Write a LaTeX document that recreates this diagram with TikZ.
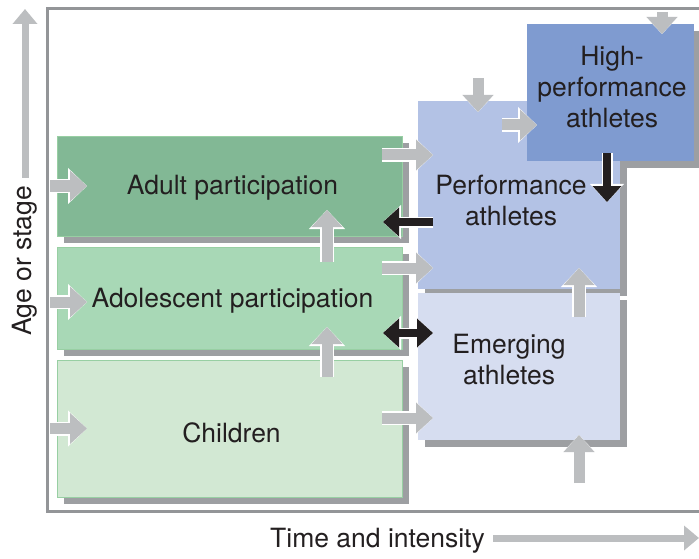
\documentclass[tikz,border=0pt]{standalone}
\usepackage{fontspec}
\setmainfont{TeX Gyre Heros}
\usetikzlibrary{arrows.meta,calc,backgrounds}
\definecolor{textdark}{HTML}{231F20}
\definecolor{framegray}{HTML}{939598}
\definecolor{shadowgray}{HTML}{9D9FA2}
\definecolor{arrowgray}{HTML}{BCBEC0}
\definecolor{adultgreen}{HTML}{82B895}
\definecolor{teengreen}{HTML}{A8D8B6}
\definecolor{childgreen}{HTML}{D2E8D3}
\definecolor{edgegreen}{HTML}{98CFA3}
\definecolor{perfblue}{HTML}{B3C2E5}
\definecolor{emergeblue}{HTML}{D6DDF0}
\definecolor{eliteblue}{HTML}{7F9BD0}

\begin{document}
\begin{tikzpicture}[x=1pt, y=-1pt,
  every node/.style={align=center, text=textdark, font=\fontsize{26.5}{31}\selectfont},
  stagebox/.style={rectangle, inner sep=0pt, outer sep=0pt},
  grayarrow/.style={draw=arrowgray, line width=11pt, -{Triangle[length=17pt,width=30pt]},
    preaction={draw=white, line width=14pt, -{Triangle[length=19pt,width=35pt]}}},
  blackarrow/.style={draw=textdark, line width=8pt, -{Triangle[length=16pt,width=28pt]},
    preaction={draw=white, line width=11pt, -{Triangle[length=18pt,width=33pt]}}},
  twoway/.style={draw=textdark, line width=8pt, {Triangle[length=16pt,width=28pt]}-{Triangle[length=16pt,width=28pt]},
    preaction={draw=white, line width=11pt, {Triangle[length=18pt,width=33pt]}-{Triangle[length=18pt,width=33pt]}}},
  axisarrow/.style={draw=arrowgray, line width=7pt, -{Triangle[length=15pt,width=24pt]}}]
\useasboundingbox (0,0) rectangle (699,559);

% Frame
\draw[framegray, line width=3pt] (702,8.5) -- (47.5,8.5) -- (47.5,511.5) -- (702,511.5);

% Participation stages
\node[stagebox, draw=edgegreen, fill=adultgreen, minimum width=345pt, minimum height=100pt] (adult) at (229.5,186) {};
\node[stagebox, draw=edgegreen, fill=teengreen, minimum width=345pt, minimum height=102pt] (adolescent) at (229.5,298) {};
\node[stagebox, draw=edgegreen, fill=childgreen, minimum width=345pt, minimum height=137pt] (children) at (229.5,428.5) {};

% Athlete stages
\node[stagebox, fill=emergeblue, minimum width=202pt, minimum height=147pt] (emerging) at (519,366.5) {};
\node[stagebox, fill=perfblue, minimum width=202pt, minimum height=188pt] (performance) at (519,195) {};
\node[stagebox, fill=eliteblue, minimum width=167pt, minimum height=137pt] (highperf) at (610.5,92.5) {};

% Shadows
\begin{pgfonlayer}{background}
\foreach \b in {adult,adolescent,children,emerging,performance,highperf}
  \fill[shadowgray] ($(\b.north west)+(7,7)$) rectangle ($(\b.south east)+(7,7)$);
\end{pgfonlayer}

% Stage names
\node[anchor=base] (adulttext) at (232.5,194) {Adult participation};
\node[anchor=base] (adolescenttext) at (232.5,307) {Adolescent participation};
\node[anchor=base] (childrentext) at (231.5,442) {Children};
\node (emergingtext) at (509,360) {Emerging\\athletes};
\node (performancetext) at (511,200.5) {Performance\\athletes};
\node (highperftext) at (612,87.5) {High-\\performance\\athletes};

% Entry from the left
\draw[grayarrow] ($(adult.west)+(-7,0)$) -- ($(adult.west)+(30,0)$);
\draw[grayarrow] ($(adolescent.west)+(-7,4)$) -- ($(adolescent.west)+(30,4)$);
\draw[grayarrow] ($(children.west)+(-7,0)$) -- ($(children.west)+(30,0)$);

% Moving up in participation
\draw[grayarrow] ($(children.north)+(97.5,17)$) -- ($(adolescent.south)+(97.5,-22)$);
\draw[grayarrow] ($(adolescent.north)+(97.5,15)$) -- ($(adult.south)+(97.5,-26)$);

% Participation to athletes
\draw[grayarrow] ($(adult.north east)+(-20,19)$) -- ($(performance.north west)+(15,54)$);
\draw[grayarrow] ($(adolescent.north east)+(-20,21)$) -- ($(performance.south west)+(15,-21)$);
\draw[grayarrow] ($(children.north east)+(-20,58)$) -- ($(emerging.south west)+(15,-22)$);

% Athlete pathway
\draw[grayarrow] ($(performance.north)+(-41,-23)$) -- ($(performance.north)+(-41,11)$);
\draw[grayarrow] ($(highperf.north)+(51.5,-12)$) -- ($(highperf.north)+(51.5,10)$);
\draw[grayarrow] ($(performance.north west)+(84,24)$) -- ($(highperf.west)+(10,32.5)$);
\draw[grayarrow] ($(emerging.south)+(60,43)$) -- ($(emerging.south)+(60,-5)$);
\draw[grayarrow] ($(emerging.north)+(60,24)$) -- ($(performance.south)+(60,-21)$);

% Moving back
\draw[blackarrow] ($(highperf.south)+(-3.5,-8)$) -- ($(performance.east)+(-13,7)$);
\draw[blackarrow] ($(performance.west)+(15,27)$) -- ($(adult.south east)+(-19,-14)$);
\draw[twoway] ($(adolescent.south east)+(-19,-16)$) -- ($(emerging.north west)+(15,40)$);

% Axes
\node[rotate=90, anchor=base] (ylabel) at (31,261) {Age or stage};
\coordinate (ytop) at (25,9);
\draw[axisarrow] ($(ytop |- ylabel.east)+(0,-5)$) -- (ytop);
\node[anchor=base] (xlabel) at (377.5,547) {Time and intensity};
\coordinate (xend) at (699,538);
\draw[axisarrow] ($(xlabel.east |- xend)+(5,0)$) -- (xend);
\end{tikzpicture}
\end{document}
